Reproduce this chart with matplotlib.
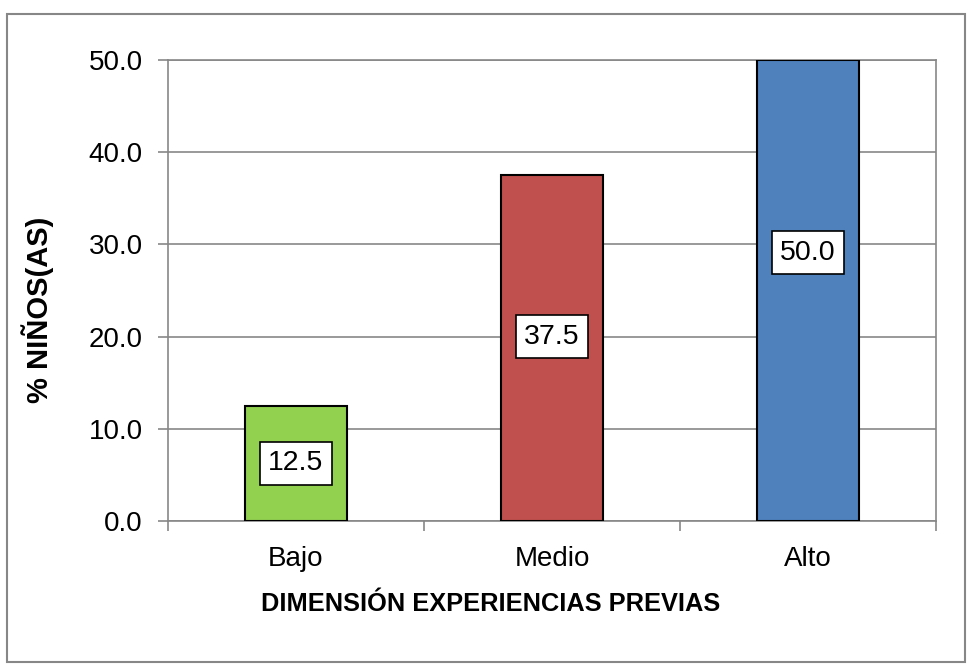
import matplotlib
matplotlib.use("Agg")
import matplotlib.pyplot as plt
from matplotlib.patches import Rectangle

plt.rcParams["font.family"] = ["Liberation Sans", "DejaVu Sans"]

# data
categories = ["Bajo", "Medio", "Alto"]
values = [12.5, 37.5, 50.0]
label_y = [6.25, 20.0, 29.1]
bar_colors = ["#92D050", "#C0504D", "#4F81BD"]
yticks = [0, 10, 20, 30, 40, 50]

GRAY = "#878787"

fig = plt.figure(figsize=(9.7, 6.68), dpi=100)
ax = fig.add_axes([168 / 970, 1 - 521 / 668, (936 - 168) / 970, (521 - 60) / 668])

x = list(range(len(categories)))
ax.bar(x, values, width=0.4, color=bar_colors, edgecolor="black", linewidth=1.5, zorder=3)

for xi, v, ly in zip(x, values, label_y):
    ax.text(xi, ly, f"{v:.1f}", ha="center", va="center", fontsize=20.5, zorder=4,
            bbox=dict(boxstyle="square,pad=0.3", fc="white", ec="black", lw=1.2))

ax.set_xlim(-0.5, 2.5)
ax.set_ylim(0, 50)
ax.set_yticks(yticks)
ax.set_yticklabels([f"{t:.1f}" for t in yticks], fontsize=20)
ax.yaxis.grid(True, color=GRAY, linewidth=1.2, zorder=0)
ax.set_axisbelow(True)

ax.set_xticks(x)
ax.set_xticklabels(categories, fontsize=20)
ax.set_xticks([-0.5, 0.5, 1.5, 2.5], minor=True)
ax.tick_params(axis="x", which="major", length=0, pad=18)
ax.tick_params(axis="x", which="minor", length=7, color=GRAY, width=1.2)
ax.tick_params(axis="y", length=7, color=GRAY, width=1.2, pad=11)

for s in ax.spines.values():
    s.set_color(GRAY)
    s.set_linewidth(1.2)

ax.set_ylabel("% NIÑOS(AS)", fontsize=21, fontweight="bold")
ax.yaxis.set_label_coords(-0.148, 0.458)
ax.set_xlabel("DIMENSIÓN EXPERIENCIAS PREVIAS", fontsize=18.3, fontweight="bold")
ax.xaxis.set_label_coords(0.42, -0.18)
ax.xaxis.label.set_va("center")

# outer chart frame
fig.patches.append(Rectangle((7 / 970, 1 - 662 / 668), (965 - 7) / 970, (662 - 14) / 668,
                             transform=fig.transFigure, fill=False, edgecolor=GRAY, linewidth=1.5))

fig.savefig("out.png", dpi=100)
